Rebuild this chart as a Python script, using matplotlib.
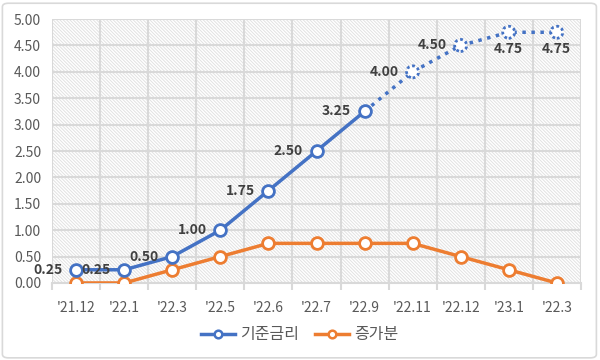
import matplotlib.pyplot as plt
from matplotlib.lines import Line2D
from matplotlib.patches import Rectangle, FancyBboxPatch
from matplotlib.ticker import FixedLocator

plt.rcParams['font.family'] = ['Noto Sans CJK KR', 'DejaVu Sans']
plt.rcParams['hatch.linewidth'] = 0.7

months = ["'21.12", "'22.1", "'22.3", "'22.5", "'22.6", "'22.7", "'22.9",
          "'22.11", "'22.12", "'23.1", "'22.3"]
base_rate = [0.25, 0.25, 0.50, 1.00, 1.75, 2.50, 3.25, 4.00, 4.50, 4.75, 4.75]
increase = [0, 0, 0.25, 0.50, 0.75, 0.75, 0.75, 0.75, 0.50, 0.25, 0]
n_actual = 7  # first 7 points are actual, rest are forecasts (dotted)

blue = '#4472C4'
orange = '#ED7D31'
grid_c = '#d9d9d9'
text_c = '#595959'

fig = plt.figure(figsize=(6, 3.6), dpi=100)
fig.patches.append(FancyBboxPatch((0.004, 0.006), 0.99, 0.985,
                                  boxstyle='round,pad=0,rounding_size=0.01',
                                  transform=fig.transFigure, facecolor='none',
                                  edgecolor='#d9d9d9', linewidth=1.2, zorder=-1))
ax = fig.add_axes([0.087, 0.214, 0.881, 0.733])
ax.set_facecolor('none')
x = list(range(len(months)))

# hatched plot background
ax.add_patch(Rectangle((0, 0), 1, 1, transform=ax.transAxes, facecolor='white',
                       edgecolor='#e2e2e2', hatch='\\' * 10, linewidth=0, zorder=0))

ax.set_xlim(-0.5, len(months) - 0.5)
ax.set_ylim(0, 5)
ax.set_yticks([i * 0.5 for i in range(11)])
ax.set_yticklabels([f'{i * 0.5:.2f}' for i in range(11)])
ax.set_xticks(x)
ax.set_xticklabels(months)
ax.xaxis.set_minor_locator(FixedLocator([i - 0.5 for i in range(len(months) + 1)]))
ax.tick_params(axis='x', which='major', length=0, pad=13, colors=text_c, labelsize=10)
ax.tick_params(axis='x', which='minor', length=5, width=1.5, color=grid_c)
ax.tick_params(axis='y', length=0, pad=8, colors=text_c, labelsize=10)
ax.grid(axis='y', which='major', color=grid_c, linewidth=1.5, zorder=1)
ax.grid(axis='x', which='minor', color=grid_c, linewidth=1.5, zorder=1)
ax.grid(axis='x', which='major', visible=False)
ax.set_axisbelow(True)
for s in ['top', 'right', 'left']:
    ax.spines[s].set_visible(False)
ax.spines['bottom'].set_color(grid_c)
ax.spines['bottom'].set_linewidth(1.5)

mk = dict(marker='o', markersize=8.5, markerfacecolor='white', markeredgewidth=2)

# increase
ax.plot(x, increase, color=orange, lw=2.5, markeredgecolor=orange, zorder=3, **mk)

# base rate: actual (solid) and forecast (dotted)
ax.plot(x[n_actual - 1:], base_rate[n_actual - 1:], color=blue, lw=2.5,
        linestyle=(0, (1, 1.6)), zorder=3)
ax.scatter(x[n_actual:], base_rate[n_actual:], s=75, facecolors='white',
           edgecolors=blue, linewidths=2, linestyle=(0, (1, 1)), zorder=4)
ax.plot(x[:n_actual], base_rate[:n_actual], color=blue, lw=2.5,
        markeredgecolor=blue, zorder=5, **mk)

for i, v in enumerate(base_rate):
    if i >= 9:
        ax.annotate(f'{v:.2f}', (i, v), xytext=(0, -12), textcoords='offset points',
                    ha='center', va='center', fontsize=10, fontweight='bold',
                    color='#404040', zorder=6)
    else:
        ax.annotate(f'{v:.2f}', (i, v), xytext=(-10, 0), textcoords='offset points',
                    ha='right', va='center', fontsize=10, fontweight='bold',
                    color='#404040', zorder=6)

lmk = dict(marker='o', markersize=5.5, markerfacecolor='white', markeredgewidth=1.8,
           lw=2.5)
handles = [Line2D([], [], color=blue, markeredgecolor=blue, **lmk),
           Line2D([], [], color=orange, markeredgecolor=orange, **lmk)]
fig.legend(handles, ['기준금리', '증가분'], loc='center', bbox_to_anchor=(0.5, 0.07),
           ncol=2, frameon=False, fontsize=11.5, labelcolor=text_c, handlelength=2.1,
           columnspacing=1.0, handletextpad=0.35)

fig.savefig('out.png', dpi=100)
